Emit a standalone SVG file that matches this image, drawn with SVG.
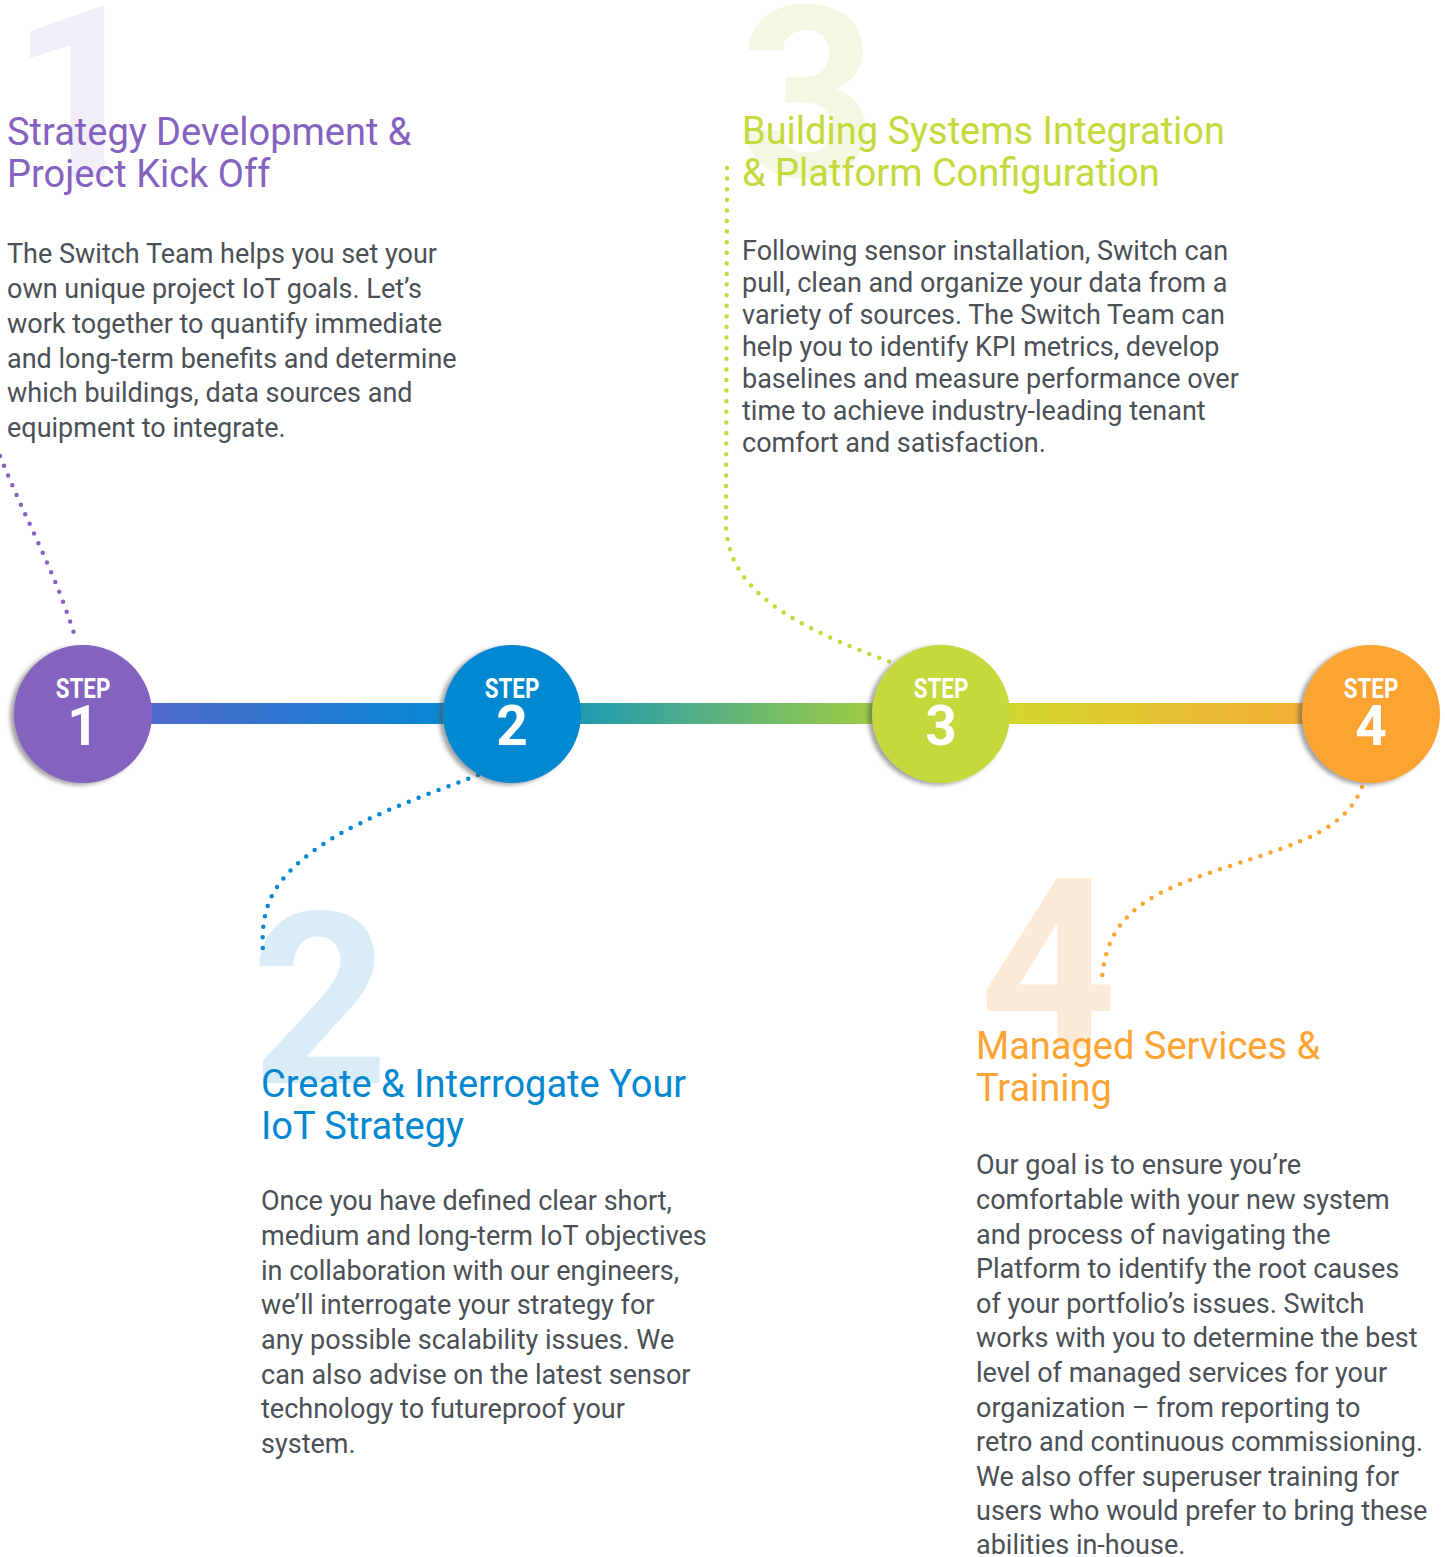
<svg xmlns="http://www.w3.org/2000/svg" width="1445" height="1557" viewBox="0 0 1445 1557">
<defs>
<style>
.big{font-family:Roboto,"Liberation Sans",sans-serif;font-weight:700;font-size:240px;text-anchor:middle}
.h{font-family:Roboto,"Liberation Sans",sans-serif;font-size:38px}
.b{font-family:Roboto,"Liberation Sans",sans-serif;font-size:27px;fill:#4b5056}
.st{font-family:Roboto,"Liberation Sans",sans-serif;font-weight:700;fill:#fff;text-anchor:middle}
.dot{fill:none;stroke-width:4.5;stroke-linecap:round;stroke-dasharray:0 10.6}
</style>
<linearGradient id="bar" x1="150" y1="0" x2="1305" y2="0" gradientUnits="userSpaceOnUse">
<stop offset="0" stop-color="#5068cd"/>
<stop offset="0.25" stop-color="#0787d2"/>
<stop offset="0.37" stop-color="#1c9bb2"/>
<stop offset="0.62" stop-color="#9ccb45"/>
<stop offset="0.75" stop-color="#d4d52e"/>
<stop offset="1" stop-color="#f4ae35"/>
</linearGradient>
<filter id="sh" x="-20%" y="-20%" width="140%" height="140%">
<feDropShadow dx="-4" dy="2" stdDeviation="2" flood-color="#555" flood-opacity="0.55"/>
</filter>
</defs>
<rect width="1445" height="1557" fill="#fff"/>

<g id="bignumbers">
<text class="big" x="79" y="177" fill="#f1eef8">1</text>
<text class="big" x="808" y="177" fill="#f3f8e3">3</text>
<text class="big" x="320" y="1083" fill="#d9ecf7">2</text>
<text class="big" x="1048" y="1048" fill="#fdebd8">4</text>
</g>

<g id="connectors">
<path class="dot" stroke="#8462c0" d="M -4 446 C 25 520 55 570 76 640"/>
<path class="dot" stroke="#0288d1" d="M 478 775 C 400 805 310 835 275 890 C 262 912 262 935 263 953"/>
<path class="dot" stroke="#c4d93a" d="M 727 168 L 726 525 C 728 590 790 625 893 663"/>
<path class="dot" stroke="#fca433" d="M 1362 787 C 1345 830 1300 843 1230 866 C 1150 892 1108 912 1102 978"/>
<rect x="150" y="703" width="1155" height="21" fill="url(#bar)"/>
</g>

<g id="step1">
<circle cx="83" cy="714" r="69" fill="#8462c0" filter="url(#sh)"/>
<text class="st" font-size="28" transform="translate(83 698) scale(0.8 1)">STEP</text>
<text class="st" font-size="55" x="83" y="745">1</text>
<text class="h" fill="#8462c0"><tspan x="7" y="145">Strategy Development &amp;</tspan><tspan x="7" y="187">Project Kick Off</tspan></text>
<text class="b"><tspan x="7" y="263">The Switch Team helps you set your</tspan><tspan x="7" y="298">own unique project IoT goals. Let’s</tspan><tspan x="7" y="333">work together to quantify immediate</tspan><tspan x="7" y="368">and long-term benefits and determine</tspan><tspan x="7" y="402">which buildings, data sources and</tspan><tspan x="7" y="437">equipment to integrate.</tspan></text>
</g>

<g id="step2">
<circle cx="512" cy="714" r="69" fill="#0288d1" filter="url(#sh)"/>
<text class="st" font-size="28" transform="translate(512 698) scale(0.8 1)">STEP</text>
<text class="st" font-size="55" x="512" y="745">2</text>
<text class="h" fill="#0288d1"><tspan x="261" y="1097">Create &amp; Interrogate Your</tspan><tspan x="261" y="1139">IoT Strategy</tspan></text>
<text class="b"><tspan x="261" y="1210">Once you have defined clear short,</tspan><tspan x="261" y="1245">medium and long-term IoT objectives</tspan><tspan x="261" y="1280">in collaboration with our engineers,</tspan><tspan x="261" y="1314">we’ll interrogate your strategy for</tspan><tspan x="261" y="1349">any possible scalability issues. We</tspan><tspan x="261" y="1384">can also advise on the latest sensor</tspan><tspan x="261" y="1418">technology to futureproof your</tspan><tspan x="261" y="1453">system.</tspan></text>
</g>

<g id="step3">
<circle cx="941" cy="714" r="69" fill="#c4d93a" filter="url(#sh)"/>
<text class="st" font-size="28" transform="translate(941 698) scale(0.8 1)">STEP</text>
<text class="st" font-size="55" x="941" y="745">3</text>
<text class="h" fill="#c4d93a"><tspan x="742" y="144">Building Systems Integration</tspan><tspan x="742" y="186">&amp; Platform Configuration</tspan></text>
<text class="b"><tspan x="742" y="260">Following sensor installation, Switch can</tspan><tspan x="742" y="292">pull, clean and organize your data from a</tspan><tspan x="742" y="324">variety of sources. The Switch Team can</tspan><tspan x="742" y="356">help you to identify KPI metrics, develop</tspan><tspan x="742" y="388">baselines and measure performance over</tspan><tspan x="742" y="420">time to achieve industry-leading tenant</tspan><tspan x="742" y="452">comfort and satisfaction.</tspan></text>
</g>

<g id="step4">
<circle cx="1371" cy="714" r="69" fill="#fca433" filter="url(#sh)"/>
<text class="st" font-size="28" transform="translate(1371 698) scale(0.8 1)">STEP</text>
<text class="st" font-size="55" x="1371" y="745">4</text>
<text class="h" fill="#fca433"><tspan x="976" y="1059">Managed Services &amp;</tspan><tspan x="976" y="1101">Training</tspan></text>
<text class="b"><tspan x="976" y="1174">Our goal is to ensure you’re</tspan><tspan x="976" y="1209">comfortable with your new system</tspan><tspan x="976" y="1244">and process of navigating the</tspan><tspan x="976" y="1278">Platform to identify the root causes</tspan><tspan x="976" y="1313">of your portfolio’s issues. Switch</tspan><tspan x="976" y="1347">works with you to determine the best</tspan><tspan x="976" y="1382">level of managed services for your</tspan><tspan x="976" y="1417">organization – from reporting to</tspan><tspan x="976" y="1451">retro and continuous commissioning.</tspan><tspan x="976" y="1486">We also offer superuser training for</tspan><tspan x="976" y="1520">users who would prefer to bring these</tspan><tspan x="976" y="1554">abilities in-house.</tspan></text>
</g>
</svg>
